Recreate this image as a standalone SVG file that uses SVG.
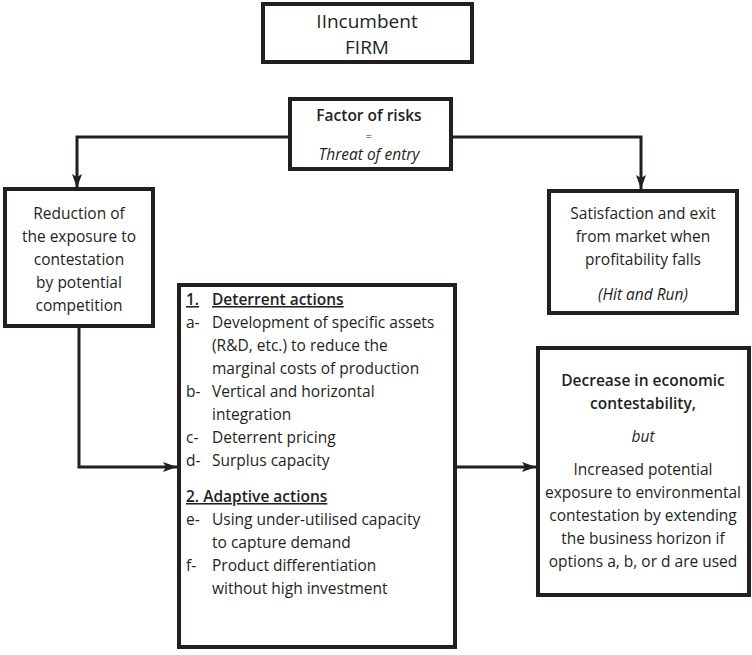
<svg xmlns="http://www.w3.org/2000/svg" width="752" height="655" viewBox="0 0 752 655">
<style>
.box{fill:#fff;stroke:#231f20;stroke-width:4}
.t{font-family:"Open Sans","Noto Sans",sans-serif;font-size:15.5px;fill:#231f20}
.c{text-anchor:middle}
.i{font-style:italic}
.b{font-weight:600}
.conn{fill:none;stroke:#231f20;stroke-width:3}
</style>
<defs>
<marker id="ah" viewBox="0 0 14 10" refX="14" refY="5" markerWidth="14" markerHeight="10" markerUnits="userSpaceOnUse" orient="auto">
<path d="M0,0 L14,5 L0,10 L3,5 Z" fill="#231f20"/>
</marker>
</defs>
<g id="connectors">
<path class="conn" d="M289,137 H77 V188" marker-end="url(#ah)"/>
<path class="conn" d="M452,137 H641 V189" marker-end="url(#ah)"/>
<path class="conn" d="M79,327 V467 H177" marker-end="url(#ah)"/>
<path class="conn" d="M456,467 H536" marker-end="url(#ah)"/>
</g>
<g id="incumbent">
<rect class="box" x="263" y="4" width="209" height="58"/>
<text class="t c" x="367" y="28" style="font-size:19px">IIncumbent</text>
<text class="t c" x="367" y="54" style="font-size:19px">FIRM</text>
</g>
<g id="factor">
<rect class="box" x="290" y="99" width="161" height="70"/>
<text class="t c b" x="369" y="121">Factor of risks</text>
<text class="t c" x="369" y="140" style="font-size:11px">=</text>
<text class="t c i" x="369" y="160">Threat of entry</text>
</g>
<g id="reduction">
<rect class="box" x="5" y="189" width="148" height="137"/>
<text class="t c" x="79" y="219">Reduction of</text>
<text class="t c" x="79" y="242">the exposure to</text>
<text class="t c" x="79" y="265">contestation</text>
<text class="t c" x="79" y="288">by potential</text>
<text class="t c" x="79" y="311">competition</text>
</g>
<g id="satisfaction">
<rect class="box" x="549" y="191" width="188" height="122"/>
<text class="t c" x="643" y="219">Satisfaction and exit</text>
<text class="t c" x="643" y="242">from market when</text>
<text class="t c" x="643" y="265">profitability falls</text>
<text class="t c i" x="643" y="300">(Hit and Run)</text>
</g>
<g id="actions">
<rect class="box" x="179" y="285" width="276" height="362"/>
<text class="t b" x="186" y="305" style="text-decoration:underline">1.<tspan x="212">Deterrent actions</tspan></text>
<text class="t" x="186" y="328">a-<tspan x="212">Development of specific assets</tspan></text>
<text class="t" x="212" y="351">(R&amp;D, etc.) to reduce the</text>
<text class="t" x="212" y="374">marginal costs of production</text>
<text class="t" x="186" y="397">b-<tspan x="212">Vertical and horizontal</tspan></text>
<text class="t" x="212" y="420">integration</text>
<text class="t" x="186" y="443">c-<tspan x="212">Deterrent pricing</tspan></text>
<text class="t" x="186" y="466">d-<tspan x="212">Surplus capacity</tspan></text>
<text class="t b" x="186" y="502" style="text-decoration:underline">2. Adaptive actions</text>
<text class="t" x="186" y="525">e-<tspan x="212">Using under-utilised capacity</tspan></text>
<text class="t" x="212" y="548">to capture demand</text>
<text class="t" x="186" y="571">f-<tspan x="212">Product differentiation</tspan></text>
<text class="t" x="212" y="594">without high investment</text>
</g>
<g id="decrease">
<rect class="box" x="538" y="348" width="211" height="247"/>
<text class="t c b" x="643" y="386">Decrease in economic</text>
<text class="t c b" x="643" y="409">contestability,</text>
<text class="t c i" x="643" y="442">but</text>
<text class="t c" x="643" y="475">Increased potential</text>
<text class="t c" x="643" y="498">exposure to environmental</text>
<text class="t c" x="643" y="521">contestation by extending</text>
<text class="t c" x="643" y="544">the business horizon if</text>
<text class="t c" x="643" y="567">options a, b, or d are used</text>
</g>
</svg>
